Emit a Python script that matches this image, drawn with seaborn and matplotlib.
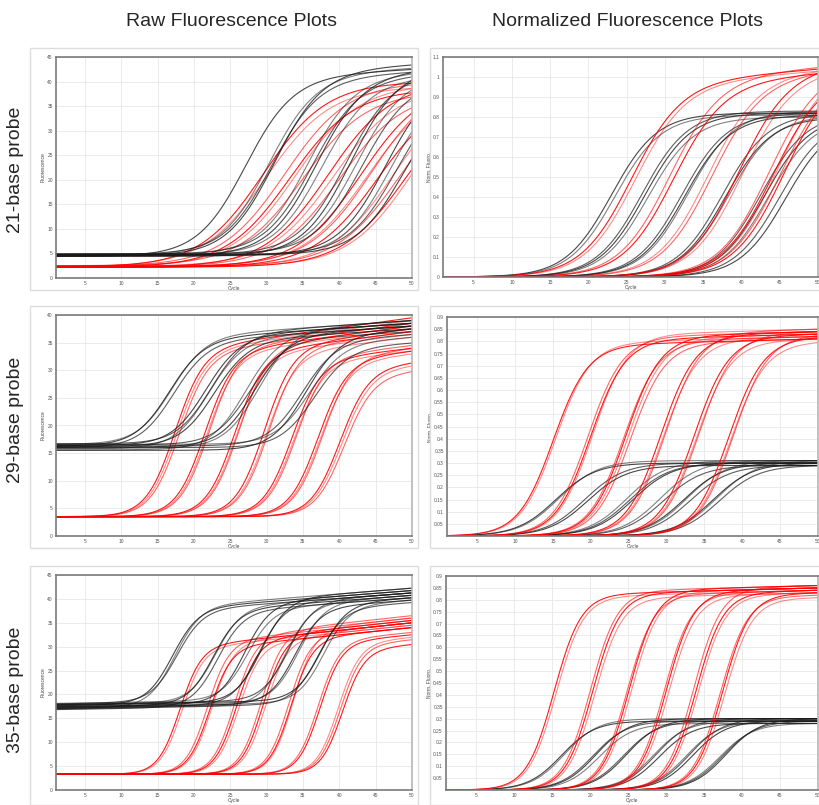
import numpy as np
import matplotlib
matplotlib.use("Agg")
import matplotlib.pyplot as plt
import seaborn as sns

# --- DATA (per-curve parameters) ---
cycles = np.arange(1, 50.01, 0.25)

# 21-base probe, raw
raw21_black_ct = [27.0, 30.2, 30.6, 31.0, 35.5, 36.2, 36.8, 37.5, 40.8, 41.5, 42.2, 43.0, 46.3, 47.0, 47.8, 48.8]
raw21_black_top = [42.5, 42.8, 42.0, 43.5, 42.0, 41.5, 42.5, 41.0, 42.0, 43.0, 41.5, 40.5, 41.0, 40.0, 39.0, 38.0]
raw21_black_base = [4.4, 4.6, 4.8, 4.5, 4.7, 4.9, 4.5, 4.6, 4.8, 4.4, 4.7, 4.9, 4.6, 4.5, 4.8, 4.7]
raw21_red_ct = [29.5, 30.0, 32.5, 33.2, 34.0, 35.0, 38.5, 39.2, 40.0, 43.0, 43.8, 44.5, 45.2, 47.5, 48.3, 49.0, 50.0]
raw21_red_top = [40, 39, 40, 38.5, 39.5, 38, 40, 39, 38, 40, 39, 41, 38, 40, 39, 38, 40]
raw21_red_base = [2.2, 2.3, 2.4, 2.2, 2.3, 2.5, 2.2, 2.4, 2.3, 2.2, 2.3, 2.4, 2.2, 2.3, 2.4, 2.2, 2.3]

# 21-base probe, normalized
norm21_black_ct = [23.0, 23.5, 27.0, 27.4, 27.8, 32.2, 32.6, 33.0, 37.5, 37.9, 38.3, 42.5, 43.0, 43.5, 45.0, 45.8]
norm21_black_top = [0.82, 0.81, 0.83, 0.82, 0.80, 0.82, 0.81, 0.83, 0.82, 0.80, 0.81, 0.82, 0.81, 0.80, 0.80, 0.79]
norm21_red_ct = [25.5, 26.0, 30.5, 31.0, 35.5, 36.0, 39.5, 40.0, 43.5, 44.0, 44.5, 45.0, 45.5]
norm21_red_top = [1.04, 1.03, 1.05, 1.02, 1.04, 1.03, 1.06, 1.04, 1.05, 1.02, 1.06, 1.03, 1.04]

# 29-base probe, raw
raw29_black_ct = [16.5, 16.8, 17.1, 21.5, 21.9, 22.3, 22.7, 27.0, 27.5, 28.2, 28.8, 34.8, 35.3, 35.8, 36.5]
raw29_black_top = [38.5, 39, 38, 38.5, 38, 39, 37.5, 38.5, 37, 38, 39, 36.5, 37.5, 36, 35]
raw29_black_base = [16.3, 16.6, 16.0, 16.4, 15.8, 16.7, 16.2, 15.6, 16.5, 16.1, 15.9, 16.3, 15.5, 16.6, 16.0]
raw29_red_ct = [17.3, 17.6, 17.9, 21.4, 21.7, 22.0, 25.5, 25.8, 26.1, 29.6, 29.9, 30.2, 33.4, 33.7, 34.0, 37.0, 37.3, 37.6, 40.0, 40.3, 40.6]
raw29_red_top = [39.5, 39, 38.5, 38, 37.5, 38.5, 37, 36.5, 38, 37.5, 36, 37, 34, 33.5, 34.5, 33.5, 33, 34, 31.5, 31, 30]

# 29-base probe, normalized
norm29_red_ct = [15.0, 15.3, 19.6, 19.9, 20.2, 24.3, 24.6, 24.9, 25.2, 29.2, 29.5, 29.8, 33.6, 33.9, 34.2, 38.2, 38.5, 38.8]
norm29_red_top = [0.81, 0.82, 0.84, 0.83, 0.85, 0.82, 0.84, 0.83, 0.81, 0.84, 0.82, 0.85, 0.83, 0.81, 0.84, 0.82, 0.80, 0.83]
norm29_black_ct = [15.4, 15.8, 19.2, 19.6, 24.8, 25.2, 25.6, 29.2, 29.6, 32.3, 32.7, 33.1, 36.2, 36.6, 37.0]
norm29_black_top = [0.30, 0.31, 0.30, 0.29, 0.31, 0.30, 0.30, 0.31, 0.29, 0.30, 0.31, 0.29, 0.30, 0.31, 0.29]

# 35-base probe, raw
raw35_black_ct = [17.0, 17.3, 17.6, 22.6, 22.9, 23.2, 26.9, 27.3, 28.8, 29.2, 32.5, 32.9, 33.8, 34.3, 37.0, 37.4, 37.8]
raw35_black_top = [40.5, 41, 40, 39.5, 40, 39, 40.5, 39, 40, 41, 39.5, 40, 38.5, 39.5, 38, 39, 38.5]
raw35_black_base = [17.6, 17.0, 18.0, 17.3, 17.8, 16.8, 17.4, 18.1, 17.1, 17.7, 16.9, 17.9, 17.2, 17.5, 17.0, 17.8, 17.3]
raw35_red_ct = [18.0, 18.3, 21.8, 22.1, 22.4, 25.5, 25.8, 26.1, 29.2, 29.5, 29.8, 33.0, 33.3, 33.6, 37.0, 37.3, 39.8, 40.1, 40.4]
raw35_red_top = [35, 34.5, 35.5, 34, 35, 36, 35, 34, 36.5, 35.5, 34.5, 35, 34, 36, 33, 32.5, 32, 31.5, 30.5]

# 35-base probe, normalized
norm35_red_ct = [15.2, 15.5, 20.0, 20.3, 20.6, 24.8, 25.1, 25.4, 29.7, 30.0, 30.3, 33.6, 33.9, 34.2, 37.1, 37.4, 37.7]
norm35_red_top = [0.85, 0.84, 0.86, 0.85, 0.83, 0.84, 0.86, 0.85, 0.84, 0.85, 0.83, 0.86, 0.84, 0.83, 0.82, 0.83, 0.81]
norm35_black_ct = [16.2, 16.6, 20.4, 20.8, 21.2, 24.4, 24.8, 28.3, 28.7, 29.1, 32.7, 33.1, 33.5, 37.1, 37.5, 37.9]
norm35_black_top = [0.29, 0.30, 0.29, 0.30, 0.28, 0.29, 0.30, 0.29, 0.30, 0.28, 0.29, 0.30, 0.29, 0.28, 0.29, 0.30]

col_titles = ["Raw Fluorescence Plots", "Normalized Fluorescence Plots"]
row_titles = ["21-base probe", "29-base probe", "35-base probe"]


def curve(ct, top, base, k, drift=0.0, base_slope=0.0):
    # sigmoid amplification curve; drift makes the plateau keep creeping up
    s = 1 / (1 + np.exp(-(cycles - ct) / k))
    return base + base_slope * cycles + (top - base) * s * (1 + drift * (cycles - 50))


# --- STYLE ---
sns.set_style("white")
plt.rcParams['font.family'] = ['Liberation Sans', 'DejaVu Sans']

W, H = 820, 805
fig = plt.figure(figsize=(W / 100, H / 100), dpi=100)


def px_axes(x0, y0, x1, y1):
    return fig.add_axes([x0 / W, 1 - y1 / H, (x1 - x0) / W, (y1 - y0) / H])


def frame(x0, y0, x1, y1):
    fig.patches.append(plt.Rectangle((x0 / W, 1 - y1 / H), (x1 - x0) / W, (y1 - y0) / H,
                                     transform=fig.transFigure, fill=False,
                                     edgecolor='#dddddd', lw=1.0))


def draw(ax, ct, top, base, k, color, alphas, drift=0.0, base_slope=0.0):
    for i, (c, t, b) in enumerate(zip(ct, top, base)):
        sns.lineplot(x=cycles, y=curve(c, t, b, k, drift, base_slope), ax=ax, color=color,
                     alpha=alphas[i % len(alphas)], lw=0.8)


def style(ax, ymax, ystep, ylabel, label_zero=True):
    ax.set_xlim(1, 50)
    ax.set_ylim(0, ymax)
    ax.set_xticks(np.arange(5, 51, 5))
    yt = np.round(np.arange(0, ymax + ystep / 2, ystep), 3)
    ax.set_yticks(yt)
    labels = [f"{v:g}" for v in yt]
    if not label_zero:
        labels[0] = ""
    ax.set_yticklabels(labels)
    ax.tick_params(labelsize=3.5, colors='#555555', length=1.5, width=0.5, pad=0.8)
    ax.grid(True, color='#e8e8e8', lw=0.6)
    ax.set_axisbelow(True)
    for s in ['left', 'top', 'bottom']:
        ax.spines[s].set_color('#7a7a7a')
        ax.spines[s].set_linewidth(1.2)
    ax.spines['right'].set_color('#b5b5b5')
    ax.spines['right'].set_linewidth(1.2)
    ax.set_xlabel("Cycle", fontsize=3.5, color='#444444', labelpad=0)
    ax.set_ylabel(ylabel, fontsize=3.5, color='#444444', labelpad=1)


black = '#1a1a1a'
red = '#ff0000'
black_alpha = [0.8, 0.55, 0.7]
red_alpha = [0.9, 0.45, 0.6]

# --- ROW 1: 21-base ---
frame(30, 48, 418, 290)
ax = px_axes(56, 57, 412, 278)
draw(ax, raw21_red_ct, raw21_red_top, raw21_red_base, 4.4, red, red_alpha)
draw(ax, raw21_black_ct, raw21_black_top, raw21_black_base, 3.3, black, black_alpha, drift=0.002)
style(ax, 45, 5, "Fluorescence")

frame(430, 48, 820, 290)
ax = px_axes(443, 57, 818, 277)
draw(ax, norm21_black_ct, norm21_black_top, [0.0] * len(norm21_black_ct), 3.0, black, black_alpha)
draw(ax, norm21_red_ct, norm21_red_top, [0.0] * len(norm21_red_ct), 3.3, red, red_alpha, drift=0.003)
style(ax, 1.1, 0.1, "Norm. Fluoro.")

# --- ROW 2: 29-base ---
frame(30, 306, 418, 548)
ax = px_axes(56, 315, 412, 536)
draw(ax, raw29_red_ct, raw29_red_top, [3.5] * len(raw29_red_ct), 2.0, red, red_alpha, drift=0.005)
draw(ax, raw29_black_ct, raw29_black_top, raw29_black_base, 2.4, black, black_alpha, drift=0.004)
style(ax, 40, 5, "Fluorescence")

frame(430, 306, 820, 548)
ax = px_axes(447, 317, 818, 536)
draw(ax, norm29_black_ct, norm29_black_top, [0.0] * len(norm29_black_ct), 2.6, black, black_alpha)
draw(ax, norm29_red_ct, norm29_red_top, [0.0] * len(norm29_red_ct), 2.3, red, red_alpha, drift=0.001)
style(ax, 0.9, 0.05, "Norm. Fluoro.", label_zero=False)

# --- ROW 3: 35-base ---
frame(30, 566, 418, 805)
ax = px_axes(56, 575, 412, 790)
draw(ax, raw35_red_ct, raw35_red_top, [3.3] * len(raw35_red_ct), 1.5, red, red_alpha, drift=0.005)
draw(ax, raw35_black_ct, raw35_black_top, raw35_black_base, 1.8, black, black_alpha,
     drift=0.004, base_slope=0.025)
style(ax, 45, 5, "Fluorescence")

frame(430, 566, 820, 805)
ax = px_axes(446, 576, 818, 790)
draw(ax, norm35_black_ct, norm35_black_top, [0.0] * len(norm35_black_ct), 2.2, black, black_alpha)
draw(ax, norm35_red_ct, norm35_red_top, [0.0] * len(norm35_red_ct), 1.8, red, red_alpha, drift=0.001)
style(ax, 0.9, 0.05, "Norm. Fluoro.", label_zero=False)

# --- TITLES ---
fig.text(232 / W, 1 - 22 / H, col_titles[0], ha='center', va='center', fontsize=14)
fig.text(628 / W, 1 - 22 / H, col_titles[1], ha='center', va='center', fontsize=14)
for y, t in zip([170, 420, 690], row_titles):
    fig.text(16 / W, 1 - y / H, t, ha='center', va='center', rotation=90, fontsize=14)

fig.savefig("out.png", dpi=100)
